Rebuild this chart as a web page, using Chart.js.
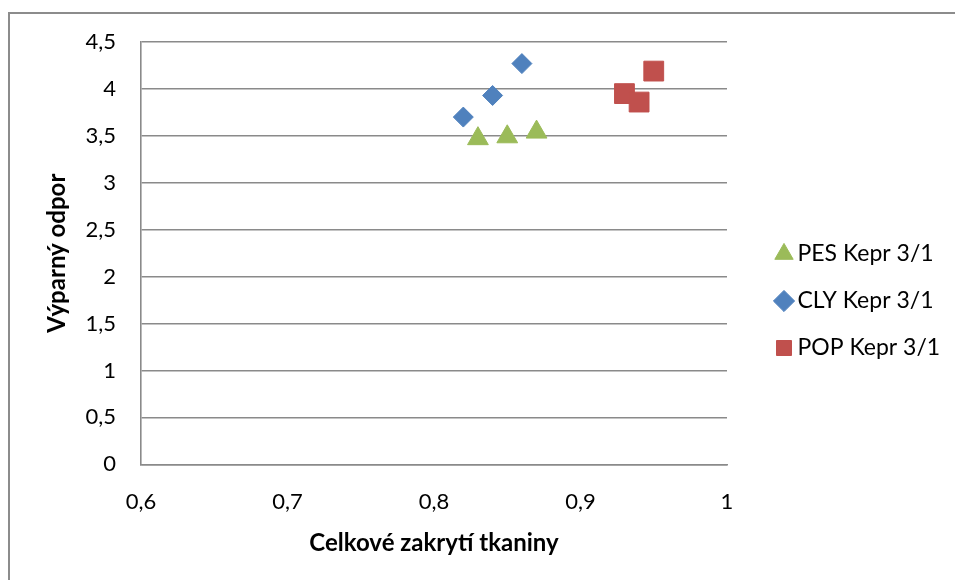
<!DOCTYPE html>
<html lang="cs">

<head>
    <meta charset="utf-8">
    <title>Výparný odpor</title>
    <style>
        body { margin: 0; background: #fff; }
        #wrap { position: relative; width: 955px; height: 580px; }
        /* frame of the chart object (only top and left edge visible) */
        #frame {
            position: absolute; left: 8px; top: 12px; width: 960px; height: 580px;
            border-left: 2px solid #8c8c8c; border-top: 2px solid #8c8c8c;
            pointer-events: none;
        }
    </style>
</head>

<body>
    <div id="wrap">
        <canvas id="scatterChart" width="955" height="580"></canvas>
        <div id="frame"></div>
    </div>

    <script src="https://cdn.jsdelivr.net/npm/chart.js"></script>
    <script>
        // data
        const seriesNames = ['PES Kepr 3/1', 'CLY Kepr 3/1', 'POP Kepr 3/1'];
        const pesX = [0.83, 0.85, 0.87];
        const pesY = [3.47, 3.49, 3.54];
        const clyX = [0.82, 0.84, 0.86];
        const clyY = [3.70, 3.93, 4.27];
        const popX = [0.93, 0.94, 0.95];
        const popY = [3.95, 3.86, 4.19];
        const xTitle = 'Celkové zakrytí tkaniny';
        const yTitle = 'Výparný odpor';

        const toPoints = (xs, ys) => xs.map((x, i) => ({ x: x, y: ys[i] }));
        const comma = v => String(Math.round(v * 10) / 10).replace('.', ',');

        const LEGEND_W = 197;
        const gridColor = '#8a8a8a';

        // keep the legend box at a fixed width so it sits where Excel put it
        const fixLegendWidth = {
            id: 'fixLegendWidth',
            beforeLayout(chart) {
                const lg = chart.legend;
                if (lg && !lg._fixed) {
                    const fit = lg.fit.bind(lg);
                    lg.fit = function () { fit(); this.width = LEGEND_W; };
                    lg._fixed = true;
                }
            }
        };

        Chart.defaults.font.family = 'Lato, "Open Sans", sans-serif';
        Chart.defaults.color = '#000';

        new Chart(document.getElementById('scatterChart'), {
            type: 'scatter',
            data: {
                datasets: [{
                    label: seriesNames[0],
                    data: toPoints(pesX, pesY),
                    pointStyle: 'triangle',
                    pointRadius: 12,
                    pointHoverRadius: 12,
                    backgroundColor: '#9bbb59',
                    borderColor: '#9bbb59',
                    borderWidth: 1
                }, {
                    label: seriesNames[1],
                    data: toPoints(clyX, clyY),
                    pointStyle: 'rectRot',
                    pointRadius: 10,
                    pointHoverRadius: 10,
                    backgroundColor: '#4f81bd',
                    borderColor: '#4f81bd',
                    borderWidth: 1
                }, {
                    label: seriesNames[2],
                    data: toPoints(popX, popY),
                    pointStyle: 'rect',
                    pointRadius: 14,
                    pointHoverRadius: 14,
                    backgroundColor: '#c0504d',
                    borderColor: '#c0504d',
                    borderWidth: 1
                }]
            },
            options: {
                responsive: false,
                animation: false,
                layout: { padding: { left: 30, top: 42, right: 0, bottom: 20 } },
                scales: {
                    x: {
                        type: 'linear',
                        min: 0.6,
                        max: 1,
                        ticks: { stepSize: 0.1, padding: 24, font: { size: 22 }, callback: comma },
                        grid: { display: false, drawTicks: false },
                        border: { display: true, color: gridColor, width: 1.6 },
                        title: { display: true, text: xTitle, font: { size: 24, weight: 'bold' }, padding: { top: 0, bottom: 2.6 } },
                        afterFit: s => { s.height = 95.7; }
                    },
                    y: {
                        min: 0,
                        max: 4.5,
                        ticks: { stepSize: 0.5, padding: 25, font: { size: 22 }, callback: comma },
                        grid: { color: gridColor, lineWidth: 1.6, drawTicks: false },
                        border: { display: true, color: gridColor, width: 1.6 },
                        title: { display: true, text: yTitle, font: { size: 24, weight: 'bold' }, padding: { top: 12.6, bottom: 0 } },
                        afterFit: s => { s.width = 111; }
                    },
                    // empty spacer between the plot and the legend
                    gap: {
                        type: 'linear',
                        position: 'right',
                        grid: { display: false },
                        ticks: { display: false },
                        border: { display: false },
                        afterFit: s => { s.width = 31; }
                    }
                },
                plugins: {
                    legend: {
                        position: 'right',
                        labels: {
                            usePointStyle: true,
                            boxWidth: 4,
                            boxHeight: 15,
                            padding: 24,
                            font: { size: 23 }
                        }
                    },
                    tooltip: { enabled: false }
                }
            },
            plugins: [fixLegendWidth]
        });
    </script>
</body>

</html>
